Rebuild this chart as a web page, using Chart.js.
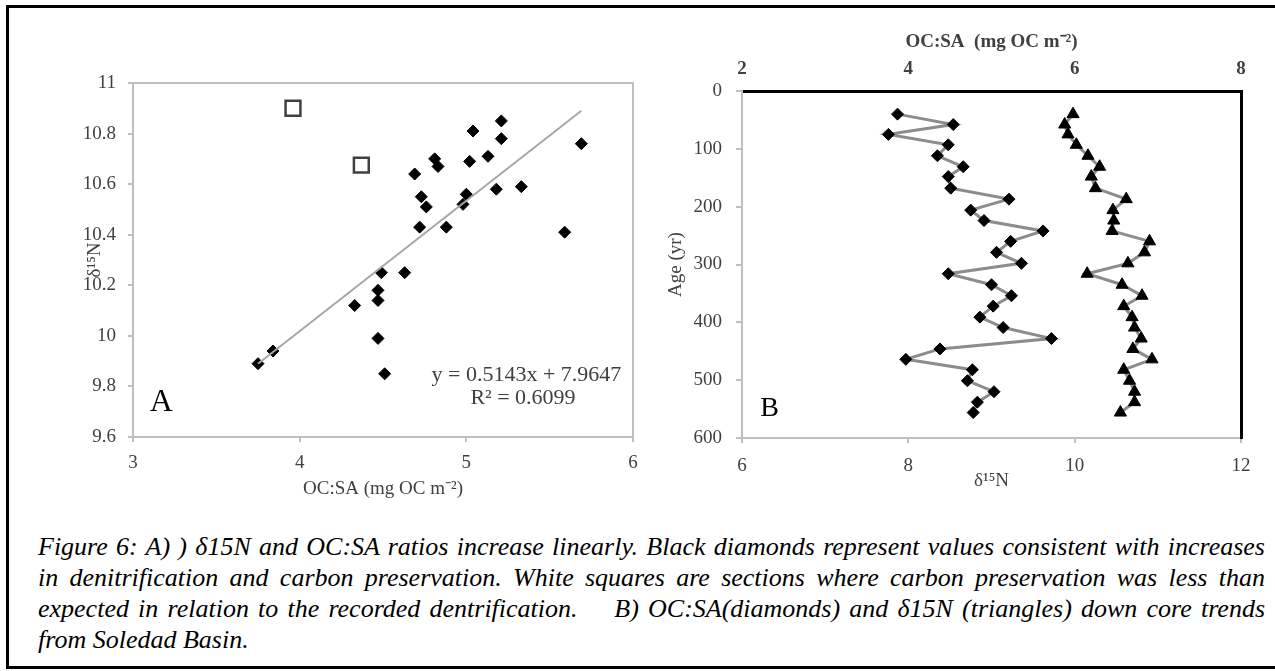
<!DOCTYPE html>
<html>
<head>
<meta charset="utf-8">
<script src="https://cdn.jsdelivr.net/npm/chart.js@4.4.0/dist/chart.umd.min.js"></script>
<style>
body { margin:0; background:#fff; width:1275px; height:671px; overflow:hidden; position:relative; font-family:'Liberation Serif', serif; }
#frame { position:absolute; left:6px; top:5px; width:1290px; height:658px; border:3px solid #000; }
#boxA { position:absolute; left:0; top:0; width:660px; height:520px; }
#boxB { position:absolute; left:640px; top:0; width:635px; height:520px; }
#caption { position:absolute; left:38px; top:531px; width:1227px; font-style:italic; font-size:26px; line-height:31px; color:#000; }
#caption div { text-align:justify; text-align-last:justify; white-space:normal; }
#caption div.last { text-align-last:left; }
</style>
</head>
<body>
<div id="frame"></div>
<div id="boxA"><canvas id="chartA"></canvas></div>
<div id="boxB"><canvas id="chartB"></canvas></div>
<div id="caption">
<div>Figure 6: A) ) δ15N and OC:SA ratios increase linearly. Black diamonds represent values consistent with increases</div>
<div>in denitrification and carbon preservation. White squares are sections where carbon preservation was less than</div>
<div>expected in relation to the recorded dentrification.&nbsp;&nbsp;&nbsp; B) OC:SA(diamonds) and δ15N (triangles) down core trends</div>
<div class="last">from Soledad Basin.</div>
</div>
<script>
// panel A : OC:SA vs d15N
const ocsaA = [3.75, 3.84, 4.33, 4.47, 4.47, 4.49, 4.63, 4.47, 4.51, 4.72, 4.88, 4.73, 4.76, 4.69, 4.98, 5.00, 5.18, 5.33, 5.59, 4.81, 4.83, 5.04, 5.02, 5.13, 5.21, 5.21, 5.69];
const d15nA = [9.89, 9.94, 10.12, 10.18, 10.14, 10.25, 10.25, 9.99, 9.85, 10.43, 10.43, 10.55, 10.51, 10.64, 10.52, 10.56, 10.58, 10.59, 10.41, 10.70, 10.67, 10.81, 10.69, 10.71, 10.85, 10.78, 10.76];
const ocsaSq = [3.96, 4.37];
const d15nSq = [10.90, 10.675];
const trendX = [3.75, 5.69];
const trendY = [9.89, 10.89];
const eqText = 'y = 0.5143x + 7.9647';
const r2Text = 'R² = 0.6099';

// panel B : down core
const ageB = [40, 58, 75, 93, 112, 131, 148, 168, 187, 206, 224, 242, 260, 279, 298, 316, 335, 354, 372, 391, 409, 428, 446, 464, 482, 501, 520, 538, 556];
const ocsaB = [3.87, 4.54, 3.76, 4.48, 4.35, 4.66, 4.48, 4.51, 5.21, 4.75, 4.91, 5.62, 5.23, 5.06, 5.36, 4.48, 5.00, 5.24, 5.02, 4.86, 5.14, 5.72, 4.38, 3.97, 4.77, 4.71, 5.03, 4.83, 4.78];
const d15nB = [9.98, 9.88, 9.92, 10.02, 10.16, 10.30, 10.20, 10.25, 10.62, 10.46, 10.47, 10.45, 10.90, 10.84, 10.64, 10.15, 10.57, 10.81, 10.59, 10.69, 10.72, 10.80, 10.70, 10.93, 10.59, 10.66, 10.72, 10.72, 10.55];

const serif = "'Liberation Serif', 'Times New Roman', serif";
const grey = '#404040';
const axisGrey = '#bfbfbf';

function pts(xs, ys) {
    return xs.map((x, i) => ({x: x, y: ys[i]}));
}

// stroke the plot area box
const framePlugin = {
    id: 'frameBox',
    beforeDatasetsDraw(chart, args, opts) {
        if (!opts.color) return;
        const a = chart.chartArea;
        const ctx = chart.ctx;
        ctx.save();
        ctx.strokeStyle = opts.color;
        ctx.lineWidth = opts.width;
        ctx.strokeRect(a.left, a.top, a.width, a.height);
        ctx.restore();
    }
};

// text placed in data coordinates
const notesPlugin = {
    id: 'notes',
    afterDatasetsDraw(chart, args, opts) {
        const ctx = chart.ctx;
        (opts.items || []).forEach(n => {
            const xs = chart.scales[n.xAxis || 'x'];
            const ys = chart.scales[n.yAxis || 'y'];
            ctx.save();
            ctx.font = n.font;
            ctx.fillStyle = n.color || '#000';
            ctx.textAlign = n.align || 'left';
            ctx.textBaseline = 'middle';
            ctx.fillText(n.text, xs.getPixelForValue(n.x), ys.getPixelForValue(n.y));
            ctx.restore();
        });
    }
};

new Chart(document.getElementById('chartA'), {
    type: 'scatter',
    data: {
        datasets: [{
            data: pts(trendX, trendY),
            showLine: true,
            borderColor: '#a6a6a6',
            borderWidth: 2,
            pointRadius: 0
        }, {
            data: pts(ocsaA, d15nA),
            pointStyle: 'rectRot',
            pointRadius: 6,
            backgroundColor: '#000',
            borderColor: '#000',
            borderWidth: 1
        }, {
            data: pts(ocsaSq, d15nSq),
            pointStyle: 'rect',
            pointRadius: 10.5,
            backgroundColor: '#fff',
            borderColor: '#404040',
            borderWidth: 2.5
        }]
    },
    options: {
        responsive: true,
        maintainAspectRatio: false,
        animation: false,
        layout: { padding: { left: 0, top: 83, right: 27, bottom: 0 } },
        plugins: {
            legend: { display: false },
            tooltip: { enabled: false },
            frameBox: { color: axisGrey, width: 2 },
            notes: {
                items: [
                    { text: 'A', x: 3.10, y: 9.735, font: '32px ' + serif, color: '#000' },
                    { text: eqText, x: 5.93, y: 9.845, align: 'right', font: '22px ' + serif, color: grey },
                    { text: r2Text, x: 5.34, y: 9.754, align: 'center', font: '22px ' + serif, color: grey }
                ]
            }
        },
        scales: {
            x: {
                type: 'linear', min: 3, max: 6,
                ticks: { stepSize: 1, color: grey, font: { family: serif, size: 19 }, padding: 10 },
                grid: { drawOnChartArea: false, drawTicks: true, tickLength: 5, color: axisGrey, lineWidth: 2 },
                border: { color: axisGrey, width: 2 },
                title: { display: true, text: 'OC:SA (mg OC m⁻²)', color: grey, font: { family: serif, size: 19 }, padding: { top: 0, bottom: 20 } },
                afterFit: s => { s.height = 83; }
            },
            y: {
                min: 9.6, max: 11,
                ticks: { stepSize: 0.2, color: grey, font: { family: serif, size: 19 }, padding: 12,
                    callback: v => String(Number(v.toFixed(1))) },
                grid: { drawOnChartArea: false, drawTicks: true, tickLength: 5, color: axisGrey, lineWidth: 2 },
                border: { color: axisGrey, width: 2 },
                title: { display: true, text: 'δ¹⁵N', color: grey, font: { family: serif, size: 19 }, padding: { top: 84, bottom: 0 } },
                afterFit: s => { s.width = 133; }
            }
        }
    },
    plugins: [framePlugin, notesPlugin]
});

new Chart(document.getElementById('chartB'), {
    type: 'scatter',
    data: {
        datasets: [{
            data: pts(ocsaB, ageB),
            xAxisID: 'x2',
            showLine: true,
            borderColor: '#8c8c8c',
            borderWidth: 3,
            pointStyle: 'rectRot',
            pointRadius: 6,
            pointBackgroundColor: '#000',
            pointBorderColor: '#000',
            pointBorderWidth: 1
        }, {
            data: pts(d15nB, ageB),
            xAxisID: 'x',
            showLine: true,
            borderColor: '#8c8c8c',
            borderWidth: 3,
            pointStyle: 'triangle',
            pointRadius: 7,
            pointBackgroundColor: '#000',
            pointBorderColor: '#000',
            pointBorderWidth: 1
        }]
    },
    options: {
        responsive: true,
        maintainAspectRatio: false,
        animation: false,
        layout: { padding: 0 },
        plugins: {
            legend: { display: false },
            tooltip: { enabled: false },
            notes: {
                items: [
                    { text: 'B', x: 6.22, y: 550, font: '28px ' + serif, color: '#000' }
                ]
            }
        },
        scales: {
            x: {
                type: 'linear', position: 'bottom', min: 6, max: 12,
                ticks: { stepSize: 2, color: grey, font: { family: serif, size: 19 }, padding: 12 },
                grid: { drawOnChartArea: false, drawTicks: true, tickLength: 5, color: axisGrey, lineWidth: 2 },
                border: { color: axisGrey, width: 2 },
                title: { display: true, text: 'δ¹⁵N', color: grey, font: { family: serif, size: 19 }, padding: { top: 0, bottom: 28 } },
                afterFit: s => { s.height = 82; }
            },
            x2: {
                type: 'linear', position: 'top', min: 2, max: 8,
                ticks: { stepSize: 2, color: grey, font: { family: serif, size: 19, weight: 'bold' }, padding: 11 },
                grid: { display: false, drawTicks: false },
                border: { color: '#000', width: 3 },
                title: { display: true, text: 'OC:SA  (mg OC m⁻²)', color: grey, font: { family: serif, size: 19, weight: 'bold' }, padding: { top: 31, bottom: 0 } },
                afterFit: s => { s.height = 91; }
            },
            y: {
                position: 'left', reverse: true, min: 0, max: 600,
                ticks: { stepSize: 100, color: grey, font: { family: serif, size: 19 }, padding: 14 },
                grid: { drawOnChartArea: false, drawTicks: true, tickLength: 6, color: axisGrey, lineWidth: 2 },
                border: { color: axisGrey, width: 2 },
                title: { display: true, text: 'Age (yr)', color: grey, font: { family: serif, size: 19 }, padding: { top: 25, bottom: 0 } },
                afterFit: s => { s.width = 102; }
            },
            y2: {
                position: 'right', reverse: true, min: 0, max: 600,
                ticks: { display: false },
                grid: { display: false, drawTicks: false },
                border: { color: '#000', width: 3 },
                afterFit: s => { s.width = 34; }
            }
        }
    },
    plugins: [notesPlugin]
});
</script>
</body>
</html>
